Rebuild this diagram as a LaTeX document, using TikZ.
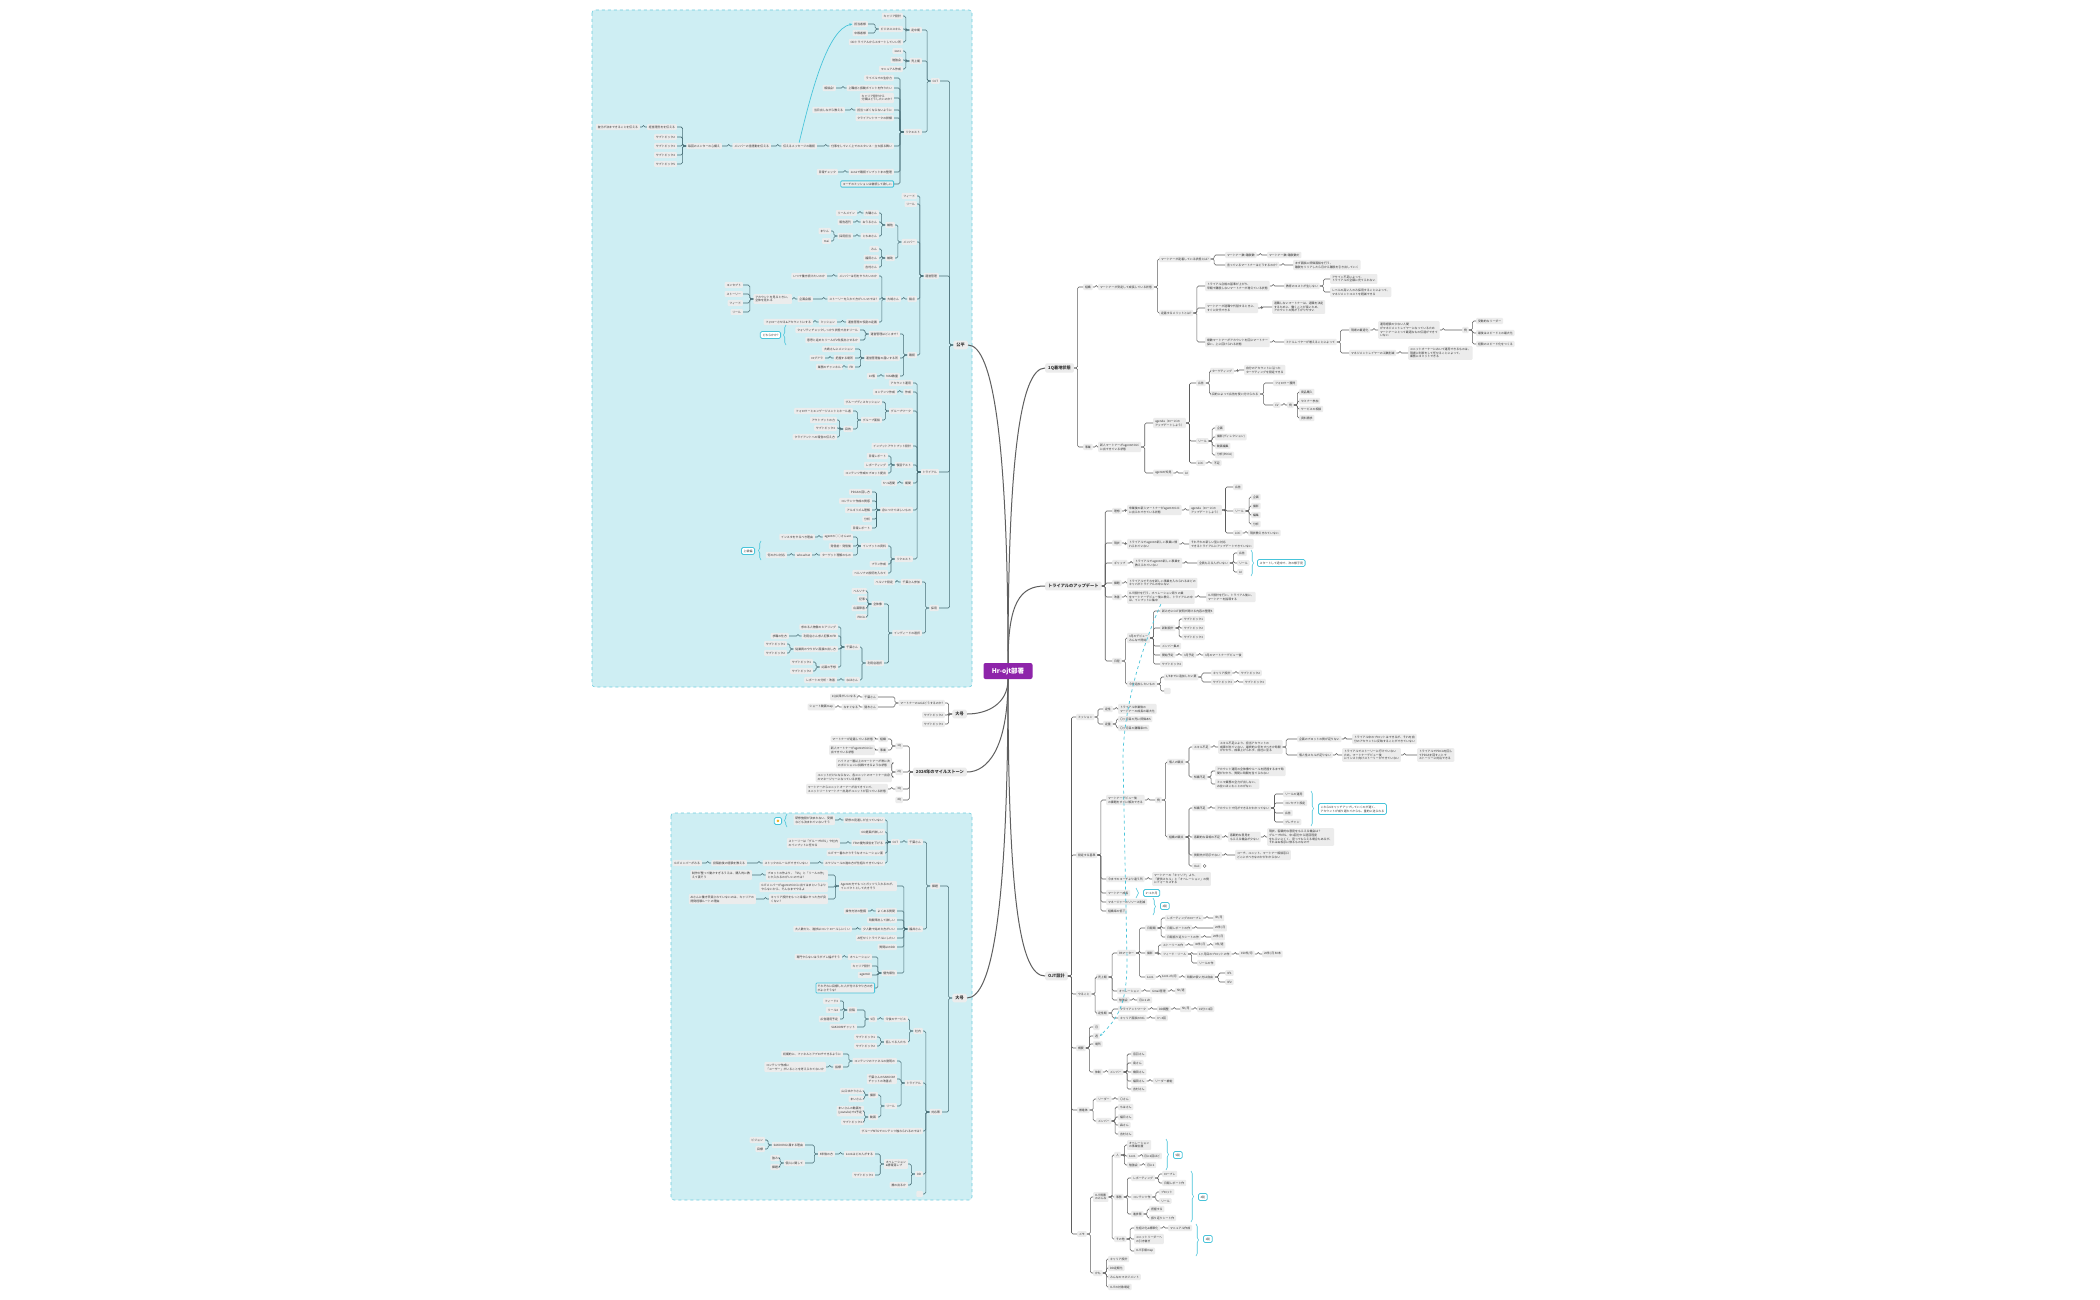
\documentclass[tikz,border=0pt]{standalone}
\usepackage{fontspec}
\newfontfamily\jp{Noto Sans CJK JP}
\usetikzlibrary{arrows.meta,decorations.pathreplacing}

\definecolor{panelfill}{RGB}{206,238,243}
\definecolor{paneledge}{RGB}{110,205,222}
\definecolor{nodegray}{RGB}{236,236,236}
\definecolor{linegray}{RGB}{95,95,95}
\definecolor{panelline}{RGB}{70,108,116}
\definecolor{notecyan}{RGB}{72,196,218}
\definecolor{rootpurple}{RGB}{142,36,170}
\definecolor{textgray}{RGB}{50,50,50}
\definecolor{iconamber}{RGB}{240,180,40}

\tikzset{
  topic/.style={fill=nodegray, text=textgray, rounded corners=1pt, inner xsep=1.8pt, inner ysep=1.8pt, align=left, font=\jp\fontsize{2.9}{3.8}\selectfont},
  rtopicnode/.style={topic, anchor=west},
  ltopicnode/.style={topic, anchor=east},
  main/.style={fill=nodegray, text=textgray, rounded corners=1.5pt, inner xsep=3pt, inner ysep=2.4pt, font=\jp\fontsize{4.2}{5}\selectfont\bfseries},
  root/.style={fill=rootpurple, text=white, rounded corners=2pt, minimum width=49pt, minimum height=16pt, font=\jp\fontsize{6.5}{7}\selectfont\bfseries},
  link/.style={draw=linegray, line width=0.55pt, rounded corners=1.5pt},
  trunk/.style={draw=linegray, line width=1pt},
  note/.style={draw=notecyan, line width=0.8pt, fill=white, rounded corners=1.5pt, inner sep=2.2pt, text=textgray, align=left, font=\jp\fontsize{2.9}{3.8}\selectfont},
  marked/.style={draw=notecyan, line width=0.8pt},
  summary/.style={draw=notecyan, line width=0.6pt, decorate, decoration={brace, amplitude=2.5pt}},
  relation/.style={draw=notecyan, line width=0.7pt, -{Stealth[length=3pt,width=2.5pt]}},
  panel/.style={fill=panelfill, draw=paneledge, dashed, line width=0.6pt, rounded corners=3pt}
}

\newcommand\rtopic[6][]{%
  \node[rtopicnode,#1] (#2#3) at (#4,#5) {#6};
  \draw[link] (#2.east) -- ++(3.5,0) |- (#2#3.west);}
\newcommand\ltopic[6][]{%
  \node[ltopicnode,#1] (#2#3) at (#4,#5) {#6};
  \draw[link] (#2.west) -- ++(-3.5,0) |- (#2#3.east);}

\begin{document}
\begin{tikzpicture}[x=1pt, y=-1pt]
  \fill[white] (0,0) rectangle (2100,1300);
  \useasboundingbox (0,0) rectangle (2100,1300);
  \draw[panel] (592,10) rectangle (972,687);
  \draw[panel] (671,813) rectangle (972,1200);

  \node[root] (hr) at (1008,671) {Hr-ojt部署};
  \node[main, anchor=west] (A) at (1045,368) {1Q着地状態};
  \node[main, anchor=west] (B) at (1045,586) {トライアルのアップデート};
  \node[main, anchor=west] (C) at (1045,976) {OJT設計};
  \node[main, anchor=east] (D) at (968,345) {公平};
  \node[main, anchor=east] (E) at (967,714) {大号};
  \node[main, anchor=east] (F) at (967,772) {2024年のマイルストーン};
  \node[main, anchor=east] (G) at (967,998) {大号};

  \draw[trunk] (hr.north) .. controls +(0,-200) and +(-25,0) .. (A.west);
  \draw[trunk] (hr.north) .. controls +(0,-60) and +(-25,0) .. (B.west);
  \draw[trunk] (hr.north) .. controls +(0,-220) and +(25,0) .. (D.east);
  \draw[trunk] (hr.south) .. controls +(0,25) and +(20,0) .. (E.east);
  \draw[trunk] (hr.south) .. controls +(0,70) and +(20,0) .. (F.east);
  \draw[trunk] (hr.south) .. controls +(0,220) and +(-25,0) .. (C.west);
  \draw[trunk] (hr.south) .. controls +(0,230) and +(25,0) .. (G.east);

  \rtopic{A}{1}{1083}{287}{組織}
  \rtopic{A1}{1}{1098}{287}{マートナーが安定して成長している状態}
  \rtopic{A11}{1}{1159}{259}{マートナーが定着している状態とは?}
  \rtopic{A111}{1}{1225}{255}{マートナー数=離脱数}
  \rtopic{A1111}{1}{1267}{255}{マートナー数>離脱数だ}
  \rtopic{A111}{2}{1225}{265}{言っているマートナーはどうするのか?}
  \rtopic{A1112}{1}{1293}{265}{まず面談or評価面談を行う、\\離脱をリリアしたら月から離脱を引き出していく}
  \rtopic{A11}{2}{1159}{313}{定着するメリットとは?}
  \rtopic{A112}{1}{1205}{286}{トライアル合格の基準が上がり、\\早期で離脱しないマートナーが増えている状態}
  \rtopic{A1121}{1}{1284}{286}{教育のコストが生じない}
  \rtopic{A11211}{1}{1330}{279}{アサイン不足によって、\\トライアルの全額に充てられない}
  \rtopic{A11211}{2}{1330}{292}{レベルの高い人のみ採用することによって、\\マネジメントコストを軽減できる}
  \rtopic{A112}{2}{1205}{308}{マートナーが退職や代替するときに、\\すぐに交代できる}
  \rtopic{A1122}{1}{1272}{307}{退職しないマートナーは、退職を決定\\するために、働くことが長いため、\\アカウントの質が下がりやすい}
  \rtopic{A112}{3}{1205}{342}{複数マートナーがアカウントを回にマートナー\\探い、上に回けられる状態}
  \rtopic{A1123}{1}{1284}{342}{ミドルレイヤーが増えることによって}
  \rtopic{A11231}{1}{1349}{330}{現場の最適化}
  \rtopic{A112311}{1}{1378}{330}{運用経験の少ない人間\\がマネジメントレイヤーになっているため\\マートナーにとって最適なもの伝達ができて\\いない}
  \rtopic{A1123111}{1}{1462}{330}{例}
  \rtopic{A11231111}{1}{1476}{321}{受動的なリーダー}
  \rtopic{A11231111}{2}{1476}{333}{最後はスピードとの最大化}
  \rtopic{A11231111}{3}{1476}{344}{経験のスピード化をつくる}
  \rtopic{A11231}{2}{1349}{353}{マネジメントレイヤーの工数削減}
  \rtopic{A112312}{1}{1408}{353}{ユニットオーナーにおいて運用できるものは、\\現場に判断をして任せることによって、\\業務にコミットできる}
  \rtopic{A}{2}{1083}{447}{事業}
  \rtopic{A2}{1}{1098}{447}{新人マートナーがagentのOJC\\に出できている状態}
  \rtopic{A21}{1}{1153}{423}{agenda（ローJCの\\アップデートしよう）}
  \rtopic{A211}{1}{1196}{383}{広告}
  \rtopic{A2111}{1}{1210}{371}{ターゲティング}
  \rtopic{A21111}{1}{1244}{370}{自分のアカウントに沿った\\ターゲティングを設定できる}
  \rtopic{A2111}{2}{1210}{394}{目的によって広告を使い分けられる}
  \rtopic{A21112}{1}{1273}{383}{フォロワー獲得}
  \rtopic{A21112}{2}{1273}{405}{CV}
  \rtopic{A211122}{1}{1287}{405}{例}
  \rtopic{A2111221}{1}{1299}{392}{商品購入}
  \rtopic{A2111221}{2}{1299}{401}{セミナー参加}
  \rtopic{A2111221}{3}{1299}{409}{サービスの相談}
  \rtopic{A2111221}{4}{1299}{418}{資料請求}
  \rtopic{A211}{2}{1196}{441}{リール}
  \rtopic{A2112}{1}{1215}{428}{企画}
  \rtopic{A2112}{2}{1215}{437}{撮影(ディレクション)}
  \rtopic{A2112}{3}{1215}{446}{動画編集}
  \rtopic{A2112}{4}{1215}{455}{分析(PDCA)}
  \rtopic{A211}{3}{1196}{463}{LOC}
  \rtopic{A2113}{1}{1212}{463}{不足}
  \rtopic{A21}{2}{1153}{473}{agentの知見}
  \rtopic{A212}{1}{1183}{473}{AI}

  \rtopic{B}{1}{1112}{511}{理想}
  \rtopic{B1}{1}{1127}{510}{卒業後の新人マートナーがagentのOJC\\に出られできている状態}
  \rtopic{B11}{1}{1189}{510}{agenda（ローJCの\\アップデートしよう）}
  \rtopic{B111}{1}{1233}{487}{広告}
  \rtopic{B111}{2}{1233}{511}{リール}
  \rtopic{B1112}{1}{1251}{497}{企画}
  \rtopic{B1112}{2}{1251}{506}{撮影}
  \rtopic{B1112}{3}{1251}{515}{編集}
  \rtopic{B1112}{4}{1251}{524}{分析}
  \rtopic{B111}{3}{1233}{533}{LOC}
  \rtopic{B1113}{1}{1248}{533}{現状教えきれていない}
  \rtopic{B}{2}{1112}{543}{現状}
  \rtopic{B2}{1}{1127}{544}{トライアルでagentの新しい事業に慣\\れられていない}
  \rtopic{B21}{1}{1189}{544}{それぞれの新しい型に対応\\できるトライアルにアップデートできていない}
  \rtopic{B}{3}{1112}{563}{ギャップ}
  \rtopic{B3}{1}{1133}{563}{トライアルでagentの新しい事業を\\教えられていない}
  \rtopic{B31}{1}{1197}{563}{全員もえる人がいない}
  \rtopic{B311}{1}{1237}{553}{広告}
  \rtopic{B311}{2}{1237}{563}{リール}
  \rtopic{B311}{3}{1237}{572}{AI}
  \draw[summary] (1251,550) -- (1251,576);
  \node[note, anchor=west] (B31n) at (1257,563) {スタートして途中で、次の様子見};
  \rtopic{B}{4}{1112}{583}{課題}
  \rtopic{B4}{1}{1127}{583}{トライアルでそれを新しい事業を入れられるほどの\\キャパがトライアルの中にない}
  \rtopic{B}{5}{1112}{597}{改善}
  \rtopic{B5}{1}{1127}{597}{OJT設計を行う、オペレーション周りの業\\をマートナーデビュー後に教え、トライアルの中\\は、インプットに集中}
  \rtopic{B51}{1}{1206}{597}{OJT設計を行い、トライアル後に、\\マートナーを指導する}
  \rtopic{B}{6}{1112}{661}{日程}
  \rtopic{B6}{1}{1127}{638}{3月のデビュー\\みんなで開始}
  \rtopic{B61}{1}{1160}{611}{新み方にOJT説明が聞ける内容の整理5}
  \rtopic{B61}{2}{1160}{628}{新制設計}
  \rtopic{B612}{1}{1182}{619}{サブトピック1}
  \rtopic{B612}{2}{1182}{628}{サブトピック2}
  \rtopic{B612}{3}{1182}{637}{サブトピック3}
  \rtopic{B61}{3}{1160}{646}{メンバー集め}
  \rtopic{B61}{4}{1160}{655}{開始予定}
  \rtopic{B614}{1}{1182}{655}{3月予定}
  \rtopic{B6141}{1}{1203}{655}{3月のマートナーデビュー後}
  \rtopic{B61}{5}{1160}{664}{サブトピック4}
  \rtopic{B6}{2}{1127}{684}{今後追加したいもの}
  \rtopic{B62}{1}{1164}{677}{1/5までに追加したい要}
  \rtopic{B621}{1}{1211}{673}{キャリア設計}
  \rtopic{B6211}{1}{1239}{673}{サブトピック2}
  \rtopic{B621}{2}{1211}{682}{サブトピック3}
  \rtopic{B6212}{1}{1243}{682}{サブトピック3}
  \rtopic{B62}{2}{1164}{691}{\phantom{あ}}

  \rtopic{C}{1}{1076}{717}{ミッション}
  \rtopic{C1}{1}{1103}{709}{定性}
  \rtopic{C11}{1}{1118}{709}{トライアル卒業後の\\マートナーの成長の最大化}
  \rtopic{C1}{2}{1103}{724}{定量}
  \rtopic{C12}{1}{1118}{719}{〇ヶ月目の売に評価あ5}
  \rtopic{C12}{2}{1118}{728}{〇ヶ月目の離職率0\%}
  \rtopic{C}{2}{1076}{855}{設定する基準}
  \rtopic{C2}{1}{1106}{800}{マートナーデビュー後\\の課題をすぐに解決できる}
  \rtopic{C21}{1}{1155}{800}{例}
  \rtopic{C211}{1}{1167}{762}{個人の観点}
  \rtopic{C2111}{1}{1192}{747}{スキル不足}
  \rtopic{C21111}{1}{1218}{747}{スキル不足により、担当アカウントの\\成果が出ていない、最終的に何をすべきか時間\\がかかり、成果上げられず、自社に至る}
  \rtopic{C211111}{1}{1297}{739}{企画のプロットの質が足りない}
  \rtopic{C2111111}{1}{1352}{739}{トライアル中のプロットはできるが、それを自\\分のアカウントに反映することができていない}
  \rtopic{C211111}{2}{1297}{755}{個人性スキルが足りない}
  \rtopic{C2111112}{1}{1342}{755}{トライアルでストーリーに行けていない\\ため、マートナーデビュー後\\にインスト向けストーリーができていない}
  \rtopic{C21111121}{1}{1417}{755}{トライアルでPDCAを回し\\てPDCAを回すことで\\ストーリーに対応できる}
  \rtopic{C2111}{2}{1192}{777}{知識不足}
  \rtopic{C21112}{1}{1215}{771}{アカウント運用の全体像やルールを把握するまで時\\間がかかり、質問に時間を当てられない}
  \rtopic{C21112}{2}{1215}{784}{ミニマ業務の全力が出しない、\\お拉いほこむことのがない}
  \rtopic{C211}{2}{1167}{837}{組織の観点}
  \rtopic{C2112}{1}{1192}{808}{知識不足}
  \rtopic{C21121}{1}{1215}{808}{アカウントで何ができるかわかってない}
  \rtopic{C211211}{1}{1283}{794}{リールの運用}
  \rtopic{C211211}{2}{1283}{803}{コンセプト設定}
  \rtopic{C211211}{3}{1283}{813}{広告}
  \rtopic{C211211}{4}{1283}{822}{プレチャン}
  \draw[summary] (1311,791) -- (1311,826);
  \node[note, anchor=west] (C2112n) at (1318,809) {これら6キャッチアップしていくのが遅く、\\アカウントが成り遅れてからも、量的に送られる};
  \rtopic{C2112}{2}{1192}{837}{客観的な目線の不足}
  \rtopic{C21122}{1}{1228}{837}{客観的な意見を\\もらえる機会が少ない}
  \rtopic{C211221}{1}{1267}{837}{現状、客観的な意見をもらえる機会は？\\グループMTG、中1回分から週回程度\\をもらいにくく、見ってもらえる場合もあるが、\\それはお相手に依るものなので}
  \rtopic{C2112}{3}{1192}{855}{質問先が明示でない}
  \rtopic{C21123}{1}{1235}{855}{コーチ、ユニット、マートナー相談窓口\\どこにすべきなのかがわからない}
  \rtopic{C2112}{4}{1192}{866}{OaC}
  \draw[linegray, line width=0.4pt] ([xshift=3pt]C21124.east) circle (1.5pt);
  \rtopic{C2}{2}{1106}{879}{今までのコーチより違う所}
  \rtopic{C22}{1}{1152}{879}{マートナーの「キャリア」より、\\「提供スキル」と「オペレーション」の側\\にフォーカスする}
  \rtopic{C2}{3}{1106}{893}{マートナー成長}
  \draw[summary] (1136,888) -- (1136,898);
  \node[note, anchor=west] (C23n) at (1143,893) {1〜1か月};
  \rtopic{C2}{4}{1106}{902}{マネージャーのリソース削減}
  \rtopic{C2}{5}{1106}{911}{組織率の低下}
  \draw[summary] (1153,898) -- (1153,915);
  \node[note, anchor=west] (C24n) at (1160,906) {4割};
  \rtopic{C}{3}{1076}{994}{やること}
  \rtopic{C3}{1}{1096}{977}{売上期}
  \rtopic{C31}{1}{1117}{953}{PAマーター}
  \rtopic{C311}{1}{1145}{928}{日報類}
  \rtopic{C3111}{1}{1165}{918}{レポーティングのロープレ}
  \rtopic{C31111}{1}{1213}{918}{3h/月}
  \rtopic{C3111}{2}{1165}{928}{日報レポートの作}
  \rtopic{C31112}{1}{1213}{928}{20件/月}
  \rtopic{C3111}{3}{1165}{937}{日報振り返りシートの作}
  \rtopic{C31113}{1}{1211}{937}{20件/月}
  \rtopic{C311}{2}{1145}{953}{撮影}
  \rtopic{C3112}{1}{1161}{945}{ストーリーの作}
  \rtopic{C31121}{1}{1193}{945}{40件/月}
  \rtopic{C311211}{1}{1213}{945}{3件/週}
  \rtopic{C3112}{2}{1161}{954}{フィード・リール}
  \rtopic{C31122}{1}{1197}{954}{1ヶ月目のプロットの作}
  \rtopic{C311221}{1}{1239}{954}{150件/月}
  \rtopic{C3112211}{1}{1262}{954}{20件/月 50本}
  \rtopic{C31122}{2}{1197}{963}{リールの作}
  \rtopic{C311}{3}{1145}{977}{1on1}
  \rtopic{C3113}{1}{1160}{977}{1on1 2h/月}
  \rtopic{C31131}{1}{1185}{977}{時間の使い方は自由}
  \rtopic{C311311}{1}{1225}{973}{3F1}
  \rtopic{C311311}{2}{1225}{982}{3F2}
  \rtopic{C31}{2}{1117}{991}{オペレーション}
  \rtopic{C312}{1}{1150}{991}{Gmail管理}
  \rtopic{C3121}{1}{1175}{991}{5h/週}
  \rtopic{C31}{3}{1117}{1000}{勉強会}
  \rtopic{C313}{1}{1137}{1000}{月に1 2h}
  \rtopic{C3}{2}{1096}{1013}{定性期}
  \rtopic{C32}{1}{1118}{1009}{クライアントワーク}
  \rtopic{C321}{1}{1157}{1009}{DD調整}
  \rtopic{C3211}{1}{1180}{1009}{5h/月}
  \rtopic{C32111}{1}{1197}{1009}{15分×4回}
  \rtopic{C32}{2}{1118}{1018}{キャリア面談のMG}
  \rtopic{C322}{1}{1155}{1018}{3〜4回}
  \rtopic{C}{4}{1076}{1048}{概要}
  \rtopic{C4}{1}{1093}{1027}{月}
  \rtopic{C4}{2}{1093}{1036}{週}
  \rtopic{C4}{3}{1093}{1044}{場所}
  \rtopic{C4}{4}{1093}{1072}{体制}
  \rtopic{C44}{1}{1108}{1072}{メンバー}
  \rtopic{C441}{1}{1131}{1054}{音羽さん}
  \rtopic{C441}{2}{1131}{1063}{島さん}
  \rtopic{C441}{3}{1131}{1072}{橋田さん}
  \rtopic{C441}{4}{1131}{1081}{福田さん}
  \rtopic{C4414}{1}{1153}{1081}{リーダー補佐}
  \rtopic{C441}{5}{1131}{1089}{吉村さん}
  \rtopic{C}{5}{1077}{1110}{推進体}
  \rtopic{C5}{1}{1096}{1099}{リーダー}
  \rtopic{C51}{1}{1118}{1099}{〇さん}
  \rtopic{C5}{2}{1096}{1121}{メンバー}
  \rtopic{C52}{1}{1118}{1107}{ちはさん}
  \rtopic{C52}{2}{1118}{1117}{福日さん}
  \rtopic{C52}{3}{1118}{1125}{森さん}
  \rtopic{C52}{4}{1118}{1134}{吉村さん}
  \rtopic{C}{6}{1077}{1234}{メモ}
  \rtopic{C6}{1}{1093}{1197}{OJT設置\\のみんな}
  \rtopic{C61}{1}{1114}{1155}{人}
  \rtopic{C611}{1}{1127}{1145}{オペレーション\\の事業位置}
  \rtopic{C611}{2}{1127}{1156}{1on1}
  \rtopic{C6112}{1}{1142}{1156}{月に2回ほど}
  \rtopic{C611}{3}{1127}{1165}{勉強会}
  \rtopic{C6113}{1}{1145}{1165}{月に1}
  \draw[summary] (1166,1139) -- (1166,1170);
  \node[note, anchor=west] (C611n) at (1173,1155) {5割};
  \rtopic{C61}{2}{1114}{1197}{事務}
  \rtopic{C612}{1}{1131}{1178}{レポーティング}
  \rtopic{C6121}{1}{1162}{1174}{ロープレ}
  \rtopic{C6121}{2}{1162}{1183}{日報レポート作}
  \rtopic{C612}{2}{1131}{1197}{コンテンツ作}
  \rtopic{C6122}{1}{1159}{1192}{プロット}
  \rtopic{C6122}{2}{1159}{1201}{リール}
  \rtopic{C612}{3}{1131}{1214}{進捗票}
  \rtopic{C6123}{1}{1149}{1209}{把握する}
  \rtopic{C6123}{2}{1149}{1218}{振り返りシート作}
  \draw[summary] (1191,1171) -- (1191,1222);
  \node[note, anchor=west] (C612n) at (1198,1197) {4割};
  \rtopic{C61}{3}{1114}{1239}{その他}
  \rtopic{C613}{1}{1134}{1228}{仕組み化\&標準化}
  \rtopic{C6131}{1}{1168}{1228}{マニュアル作成}
  \rtopic{C613}{2}{1134}{1239}{ユニットリーダーへ\\の引き継ぎ}
  \rtopic{C613}{3}{1134}{1251}{OJT手順map}
  \draw[summary] (1196,1224) -- (1196,1256);
  \node[note, anchor=west] (C613n) at (1203,1239) {1割};
  \rtopic{C6}{2}{1093}{1273}{かも}
  \rtopic{C62}{1}{1108}{1259}{キャリア設計}
  \rtopic{C62}{2}{1108}{1268}{DD定期化}
  \rtopic{C62}{3}{1108}{1277}{みんなのマネジメント}
  \rtopic{C62}{4}{1108}{1287}{OJTの対象場定}

  \begin{scope}[link/.append style={draw=panelline}]
  \ltopic{D}{1}{940}{81}{OJT}
  \ltopic{D1}{1}{922}{30}{定中期}
  \ltopic{D11}{1}{903}{16}{キャリア設計}
  \ltopic{D11}{2}{903}{29}{ビジネススキル}
  \ltopic{D112}{1}{868}{24}{担当者様}
  \ltopic{D112}{2}{868}{33}{中級者様}
  \ltopic{D11}{3}{903}{42}{ODトライアルからスタートしていい所}
  \ltopic{D1}{2}{922}{61}{売上期}
  \ltopic{D12}{1}{903}{51}{1on1}
  \ltopic{D12}{2}{903}{60}{勉強会}
  \ltopic{D12}{3}{903}{69}{マニュアル作成}
  \ltopic{D1}{3}{922}{132}{リクエスト}
  \ltopic{D13}{1}{894}{78}{ライバルでの生存力}
  \ltopic{D13}{2}{894}{88}{上職前と振動ポイントを作りたい}
  \ltopic{D132}{1}{836}{88}{相談会!}
  \ltopic{D13}{3}{894}{98}{キャリア設計から\\分類はどうしたいのか?}
  \ltopic{D13}{4}{894}{110}{担当っぽくならないように}
  \ltopic{D134}{1}{845}{110}{当日出しながら教える}
  \ltopic{D13}{5}{894}{118}{クライアントワークの詳細}
  \ltopic{D13}{6}{894}{146}{仕事をしていく上でのスタンス・立ち振る舞い}
  \ltopic{D136}{1}{817}{146}{伝えるメッセージの確認}
  \ltopic{D1361}{1}{771}{146}{メンバーの言語動を伝える}
  \ltopic{D13611}{1}{722}{146}{毎回のメンターの心構え}
  \ltopic{D136111}{1}{677}{127}{経営理念をを伝える}
  \ltopic{D1361111}{1}{640}{127}{自分が決まできることを伝える}
  \ltopic{D136111}{2}{677}{137}{サブトピック2}
  \ltopic{D136111}{3}{677}{146}{サブトピック3}
  \ltopic{D136111}{4}{677}{155}{サブトピック4}
  \ltopic{D136111}{5}{677}{164}{サブトピック5}
  \ltopic{D13}{7}{894}{172}{1on1で確認インプットまの整理}
  \ltopic{D137}{1}{838}{172}{日報チェック}
  \ltopic[marked]{D13}{8}{894}{184}{コーチのミッションは継続して欲しい}
  \draw[relation] (D1361.north) .. controls +(12,-50) and +(-25,5) .. (D1121.west);
  \ltopic{D}{2}{939}{276}{運営管理}
  \ltopic{D2}{1}{917}{196}{フィード}
  \ltopic{D2}{2}{917}{204}{リール}
  \ltopic{D2}{3}{917}{242}{メンバー}
  \ltopic{D23}{1}{895}{225}{補佐}
  \ltopic{D231}{1}{879}{213}{大磯さん}
  \ltopic{D2311}{1}{857}{213}{リールメイン}
  \ltopic{D231}{2}{879}{222}{おうるさん}
  \ltopic{D2312}{1}{853}{222}{報告週刊}
  \ltopic{D231}{3}{879}{236}{とちあさん}
  \ltopic{D2313}{1}{853}{236}{採用担当}
  \ltopic{D23131}{1}{831}{231}{まりん}
  \ltopic{D23131}{2}{831}{241}{mai}
  \ltopic{D23}{2}{895}{258}{補助}
  \ltopic{D232}{1}{879}{249}{みん}
  \ltopic{D232}{2}{879}{258}{福田さん}
  \ltopic{D232}{3}{879}{267}{吉村さん}
  \ltopic{D2}{4}{917}{299}{論点}
  \ltopic{D24}{1}{901}{299}{大嶋さん}
  \ltopic{D241}{1}{879}{276}{メンバーは何をやりたいのか}
  \ltopic{D2411}{1}{827}{276}{いつで働き続けたいのか}
  \ltopic{D241}{2}{879}{299}{ストーリーを入れて方がいいのでは?}
  \ltopic{D2412}{1}{813}{299}{企画会議}
  \ltopic{D24121}{1}{792}{299}{アカウントを見るときに、\\全体を見れる}
  \ltopic{D241211}{1}{743}{285}{コンセプト}
  \ltopic{D241211}{2}{743}{294}{ストーリー}
  \ltopic{D241211}{3}{743}{303}{フィード}
  \ltopic{D241211}{4}{743}{312}{リール}
  \ltopic{D241}{3}{879}{322}{運営管理の役割の定義}
  \ltopic{D2413}{1}{837}{322}{ミッション}
  \ltopic{D24131}{1}{813}{322}{フォローさせる\&アカウントにする}
  \ltopic{D2}{5}{917}{355}{確認}
  \ltopic{D25}{1}{900}{334}{運営管理はどこまで?}
  \ltopic{D251}{1}{860}{330}{クォリティチェックしっかり状態で出すリール}
  \ltopic{D251}{2}{860}{340}{意思と定めたリールが2件振出させるか}
  \draw[summary] (786,345) -- (786,325);
  \node[note, anchor=east] (D251n) at (781,335) {どちらかか?};
  \ltopic{D25}{2}{900}{358}{運営管理者の届いする所}
  \ltopic{D252}{1}{855}{349}{大嶋さんにメンション}
  \ltopic{D252}{2}{855}{358}{把握する場所}
  \ltopic{D2522}{1}{825}{358}{ログアラ}
  \ltopic{D252}{3}{855}{367}{FB}
  \ltopic{D2523}{1}{843}{367}{業務のチャンネル}
  \ltopic{D25}{3}{900}{376}{MAX数量}
  \ltopic{D253}{1}{877}{376}{10個}
  \ltopic{D}{3}{939}{472}{トライアル}
  \ltopic{D3}{1}{913}{383}{アカウント運用}
  \ltopic{D3}{2}{913}{392}{作成}
  \ltopic{D32}{1}{897}{392}{コンテンツ作成}
  \ltopic{D3}{3}{913}{411}{グループワーク}
  \ltopic{D33}{1}{882}{402}{グループディスカッション}
  \ltopic{D33}{2}{882}{420}{グループ面談}
  \ltopic{D332}{1}{853}{411}{フォロワーとエンゲージメントとホール者}
  \ltopic{D332}{2}{853}{429}{目的}
  \ltopic{D3322}{1}{837}{420}{アウトプットの力}
  \ltopic{D3322}{2}{837}{428}{サブトピック3}
  \ltopic{D3322}{3}{837}{437}{クライアントへの報告の伝え方}
  \ltopic{D3}{4}{913}{446}{インプットアウトプット設計}
  \ltopic{D3}{5}{913}{465}{復習テスト}
  \ltopic{D35}{1}{888}{456}{日報レポート}
  \ltopic{D35}{2}{888}{465}{レポーティング}
  \ltopic{D35}{3}{888}{473}{コンテンツ作成のプロット提出}
  \ltopic{D3}{6}{913}{483}{期間}
  \ltopic{D36}{1}{897}{483}{5〜6週間}
  \ltopic{D3}{7}{913}{510}{身につけてほしいもの}
  \ltopic{D37}{1}{872}{492}{PDCAの回し方}
  \ltopic{D37}{2}{872}{501}{コンテンツ作成の質感}
  \ltopic{D37}{3}{872}{510}{アルゴリズム理解}
  \ltopic{D37}{4}{872}{519}{分析}
  \ltopic{D37}{5}{872}{528}{日報レポート}
  \ltopic{D3}{8}{913}{559}{リクエスト}
  \ltopic{D38}{1}{888}{546}{インプットの資料}
  \ltopic{D381}{1}{853}{537}{agentの○○さんver}
  \ltopic{D3811}{1}{815}{537}{インスタをやるべき理由}
  \ltopic{D381}{2}{853}{546}{発信前・発信後}
  \ltopic{D381}{3}{853}{555}{ターゲット理解のもの}
  \ltopic{D3813}{1}{812}{555}{who what}
  \ltopic{D38131}{1}{787}{555}{何のかに対応}
  \draw[summary] (761,560) -- (761,541);
  \node[note, anchor=east] (D381n) at (755,551) {上級編};
  \ltopic{D38}{2}{888}{564}{プラン作成}
  \ltopic{D38}{3}{888}{573}{ペルソナの説明を入れて}
  \ltopic{D}{4}{939}{608}{採用}
  \ltopic{D4}{1}{922}{582}{千葉さん参加}
  \ltopic{D41}{1}{895}{582}{ペルソナ設定}
  \ltopic{D4}{2}{922}{633}{インディードの選択}
  \ltopic{D42}{1}{884}{604}{全体像}
  \ltopic{D421}{1}{867}{591}{ペルソナ}
  \ltopic{D421}{2}{867}{599}{記事}
  \ltopic{D421}{3}{867}{608}{応募障害}
  \ltopic{D421}{4}{867}{617}{PDCA}
  \ltopic{D42}{2}{884}{663}{利用店選択}
  \ltopic{D422}{1}{860}{647}{千葉さん}
  \ltopic{D4221}{1}{838}{627}{求める人物像のヒアリング}
  \ltopic{D4221}{2}{838}{636}{利用店さん求人記事のFB}
  \ltopic{D42212}{1}{789}{636}{求職の仕方}
  \ltopic{D4221}{3}{838}{649}{従業員のやりがい面接の出し方}
  \ltopic{D42213}{1}{787}{644}{サブトピック1}
  \ltopic{D42213}{2}{787}{653}{サブトピック2}
  \ltopic{D4221}{4}{838}{667}{応募の予想}
  \ltopic{D42214}{1}{813}{662}{サブトピック1}
  \ltopic{D42214}{2}{813}{671}{サブトピック2}
  \ltopic{D422}{2}{860}{680}{なほさん}
  \ltopic{D4222}{1}{837}{680}{レポートの分析・改善}
  \end{scope}

  \ltopic{E}{1}{945}{703}{マートナーのonはどうするのか?}
  \ltopic{E1}{1}{878}{697}{千葉さん}
  \ltopic{E11}{1}{858}{697}{1Q以降がいになる}
  \ltopic{E1}{2}{878}{707}{猪木さん}
  \ltopic{E12}{1}{860}{707}{なすぐなる}
  \ltopic{E121}{1}{835}{707}{ショート動画map}
  \ltopic{E}{2}{945}{715}{サブトピック2}
  \ltopic{E}{3}{945}{724}{サブトピック3}

  \ltopic{F}{1}{903}{746}{1Q}
  \ltopic{F1}{1}{888}{739}{組織}
  \ltopic{F11}{1}{875}{739}{マートナーが定着している状態}
  \ltopic{F1}{2}{888}{750}{事業}
  \ltopic{F12}{1}{875}{750}{新人マートナーがagentのOJCに\\出できている状態}
  \ltopic{F}{2}{903}{772}{2Q}
  \ltopic{F2}{1}{892}{763}{ハイフォー層以上のマートナーが常に次\\のポジションに挑戦できるような状態}
  \ltopic{F2}{2}{892}{777}{ユニットだけにならない、各ユニットのマートナー出身\\のマネージャーになっている状態}
  \ltopic{F}{3}{903}{789}{3Q}
  \ltopic{F3}{1}{888}{789}{マートナーからユニットオーナーが出てきていて、\\ユニットリートマートナー出身がユニットが回っている状態}
  \ltopic{F}{4}{903}{800}{4Q}

  \begin{scope}[link/.append style={draw=panelline}]
  \ltopic{G}{1}{940}{886}{課題}
  \ltopic{G1}{1}{923}{842}{千葉さん}
  \ltopic{G11}{1}{900}{842}{OJT}
  \ltopic{G111}{1}{885}{820}{研修の見通しが立っていない}
  \ltopic{G1111}{1}{835}{820}{研修施設が決まれない、受講\\なども決まれていないそう}
  \draw[summary] (787,827) -- (787,814);
  \node[note, anchor=east] (G1111n) at (782,821) {\textcolor{iconamber}{●}};
  \ltopic{G111}{2}{885}{832}{OD提案が欲しい}
  \ltopic{G111}{3}{885}{843}{FBの優先順位を下げる}
  \ltopic{G1113}{1}{840}{843}{ストーリーは「グループMTG」や社内\\のインプットに任せる}
  \ltopic{G111}{4}{885}{853}{OJTで一番わかりそうなオペレーション面}
  \ltopic{G111}{5}{885}{863}{スケジュールの進め方が仕組みできていない}
  \ltopic{G1115}{1}{810}{863}{ストックのルールができていない}
  \ltopic{G11151}{1}{747}{863}{投稿前後の経験を教える}
  \ltopic{G111511}{1}{702}{863}{OJTメンバーがみる}
  \ltopic{G1}{2}{923}{929}{福井さん}
  \ltopic{G12}{1}{897}{886}{Agentの方でもっとガッツリ入れるのが、\\インパクトとして大きそう}
  \ltopic{G121}{1}{828}{875}{プロットの作より、「5S」と「リールの作」\\とか入れるのがいいのでは?}
  \ltopic{G1211}{1}{752}{875}{制作が整って動かすぎるうえは、購入的に教\\えて貰そう}
  \ltopic{G121}{2}{828}{887}{OJTメンバーがagentのOJCに出てはまというより\\やらないから、そんなまでやるよ}
  \ltopic{G121}{3}{828}{899}{キャリア設計をもっと幸福にやった方が良\\くない?}
  \ltopic{G1213}{1}{756}{899}{AIさんに働き甲斐されていないのは、キャリアの\\開発経験ルートの理由}
  \ltopic{G12}{2}{897}{911}{よくある質問}
  \ltopic{G122}{1}{868}{911}{操作方法の整備}
  \ltopic{G12}{3}{897}{920}{時間帯出して欲しい}
  \ltopic{G12}{4}{897}{929}{少人数で始めた方がいい}
  \ltopic{G124}{1}{852}{929}{大人数だと、進捗はコントロールしにくい}
  \ltopic{G12}{5}{897}{938}{AI任せくトライアルにしたい}
  \ltopic{G12}{6}{897}{947}{質問はのDD}
  \ltopic{G12}{7}{897}{973}{優先順位}
  \ltopic{G127}{1}{872}{957}{オペレーション}
  \ltopic{G1271}{1}{842}{957}{専門やらないはうがブレ幅がそう}
  \ltopic{G127}{2}{872}{966}{キャリア設計}
  \ltopic{G127}{3}{872}{975}{agentAI}
  \ltopic[marked]{G127}{4}{875}{988}{それぞれに目標した人が付けるやり方の方\\がよさそうな?}
  \ltopic{G}{2}{942}{1112}{対応策}
  \ltopic{G2}{1}{923}{1031}{社内}
  \ltopic{G21}{1}{908}{1019}{今後のサービス}
  \ltopic{G211}{1}{877}{1019}{5月}
  \ltopic{G2111}{1}{857}{1010}{投稿}
  \ltopic{G21111}{1}{840}{1001}{フィード3}
  \ltopic{G21111}{2}{840}{1010}{リール4}
  \ltopic{G21111}{3}{840}{1019}{広告運用予定}
  \ltopic{G2111}{2}{857}{1027}{SAKOOMチャット}
  \ltopic{G21}{2}{908}{1042}{話してる人たち}
  \ltopic{G212}{1}{877}{1037}{サブトピック1}
  \ltopic{G212}{2}{877}{1046}{サブトピック2}
  \ltopic{G2}{2}{923}{1083}{トライアル}
  \ltopic{G22}{1}{897}{1061}{コンテンツのファネルの説明の}
  \ltopic{G221}{1}{843}{1054}{初期的に、ファネルとアプロチできるように}
  \ltopic{G221}{2}{843}{1067}{指標}
  \ltopic{G2212}{1}{826}{1067}{コンテンツ作成に\\「ユーザー」がいることを考えられてないか}
  \ltopic{G22}{2}{897}{1079}{千葉さんのSAKOOM\\チャットの改善点}
  \ltopic{G22}{3}{897}{1106}{リール}
  \ltopic{G223}{1}{878}{1095}{撮影}
  \ltopic{G2231}{1}{864}{1091}{山口ゆかりさん}
  \ltopic{G2231}{2}{864}{1099}{まいさん}
  \ltopic{G223}{2}{878}{1117}{動画}
  \ltopic{G2232}{1}{864}{1111}{まいさんの動画を\\(youtube)で6予定}
  \ltopic{G2232}{2}{864}{1122}{サブトピック3}
  \ltopic{G2}{3}{923}{1131}{グループMTGでコンテンツ触れられるのでは?}
  \ltopic{G2}{4}{923}{1174}{OD}
  \ltopic{G24}{1}{908}{1164}{オペレーション\\\&情報落レプ}
  \ltopic{G241}{1}{875}{1154}{1on1はどの人がする}
  \ltopic{G2411}{1}{835}{1154}{5年後の方}
  \ltopic{G24111}{1}{805}{1145}{SAKOOMに属する理由}
  \ltopic{G241111}{1}{765}{1140}{ビジョン}
  \ltopic{G241111}{2}{765}{1149}{目標}
  \ltopic{G24111}{2}{805}{1163}{個人に関して}
  \ltopic{G241112}{1}{780}{1158}{強み}
  \ltopic{G241112}{2}{780}{1167}{課題}
  \ltopic{G241}{2}{875}{1175}{サブトピック3}
  \ltopic{G24}{2}{908}{1185}{誰の出るか}
  \ltopic{G2}{5}{923}{1194}{\phantom{あ}}
  \end{scope}

  \draw[relation, dashed] (B51.south) .. controls +(-20,45) and +(0,-50) .. (1123,760) -- (1127,960) .. controls +(0,45) and +(18,-18) .. (C42.east);
\end{tikzpicture}
\end{document}
